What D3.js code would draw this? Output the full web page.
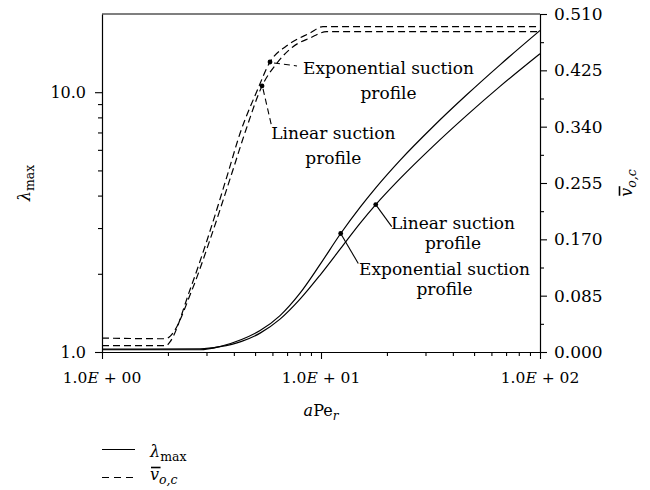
<!DOCTYPE html>
<html>
<head>
<meta charset="utf-8">
<script src="https://cdn.jsdelivr.net/npm/d3@7"></script>
<style>
  html, body { margin: 0; padding: 0; background: #fff; }
  svg { display: block; }
  text { font-family: "DejaVu Serif", serif; fill: #000; white-space: pre; }
</style>
</head>
<body>
<svg id="chart" width="650" height="490"></svg>
<script>
// ---- data -------------------------------------------------------------
// Maximum growth rate λmax against aPe_r (left, logarithmic axis)
const aPeLambda         = [1, 2.8, 3.46, 4.34, 5.27, 6.5, 8.02, 9.89, 12.3, 15.07, 17.78, 22.95, 32.46, 46.27, 65.68, 100];
const lambdaExponential = [1.020, 1.020, 1.050, 1.117, 1.209, 1.381, 1.685, 2.169, 2.858, 3.604, 4.285, 5.467, 7.364, 9.772, 12.745, 17.28];
const lambdaLinear      = [1.025, 1.028, 1.048, 1.099, 1.182, 1.338, 1.597, 1.974, 2.505, 3.128, 3.693, 4.648, 6.19, 8.145, 10.53, 14.07];

// Critical mean suction velocity against aPe_r (right, linear axis)
const aPeVExponential = [1, 1.96, 2.04, 2.52, 3.02, 3.76, 4.27, 5.09, 5.85, 6.97, 8.91, 10.2, 100];
const vExponential    = [0.0095, 0.0095, 0.015, 0.0935, 0.169, 0.270, 0.330, 0.393, 0.4376, 0.4620, 0.4813, 0.4909, 0.4909];
const aPeVLinear      = [1, 1.96, 2.05, 2.576, 3.11, 3.92, 4.54, 5.38, 6.28, 7.45, 8.91, 10.6, 100];
const vLinear         = [0.021, 0.020, 0.024, 0.0935, 0.169, 0.270, 0.335, 0.4014, 0.4356, 0.4607, 0.4738, 0.4833, 0.4833];

// ticks
const aPeTicks         = [1, 10, 100];
const aPeTickLabels    = ["1.0E + 00", "1.0E + 01", "1.0E + 02"];
const aPeMinorTicks    = [2, 3, 4, 5, 6, 7, 8, 9, 20, 30, 40, 50, 60, 70, 80, 90];
const lambdaTicks      = [1, 10];
const lambdaTickLabels = ["1.0", "10.0"];
const lambdaMinorTicks = [2, 3, 4, 5, 6, 7, 8, 9];
const vTicks           = [0, 0.085, 0.17, 0.255, 0.34, 0.425, 0.51];
const vTickLabels      = ["0.000", "0.085", "0.170", "0.255", "0.340", "0.425", "0.510"];
const vMinorTicks      = [0.0425, 0.1275, 0.2125, 0.2975, 0.3825, 0.4675];

// ---- layout -----------------------------------------------------------
const FS = 16;          // titles, legend, left tick labels
const FS_X = 15.5;      // bottom tick labels
const FS_R = 17;        // right tick labels
const FS_NOTE = 17;     // curve annotations
const plot = { left: 102, right: 540, top: 14, bottom: 352 };
const svg = d3.select("#chart");

const x = d3.scaleLog().domain([1, 100]).range([plot.left, plot.right]);
const yL = d3.scaleLog().domain([1, 20]).range([plot.bottom, plot.top]);
const yR = d3.scaleLinear().domain([0, 0.51]).range([plot.bottom, plot.top]);

// ---- axes -------------------------------------------------------------
function styleAxis(g, size) {
  g.selectAll("path.domain").attr("stroke", "#000").attr("stroke-width", 1.2);
  g.selectAll(".tick line").attr("stroke", "#000").attr("stroke-width", 1.1);
  g.selectAll("text").attr("font-size", size).attr("font-family", "DejaVu Serif, serif");
}

// top frame line
svg.append("line")
  .attr("x1", plot.left).attr("x2", plot.right)
  .attr("y1", plot.top).attr("y2", plot.top)
  .attr("stroke", "#555").attr("stroke-width", 1.5);

// bottom (aPe_r)
const gx = svg.append("g").attr("transform", `translate(0,${plot.bottom})`);
gx.call(d3.axisBottom(x).tickValues(aPeMinorTicks).tickSize(4).tickSizeOuter(0).tickFormat(""));
gx.append("g").call(d3.axisBottom(x).tickValues(aPeTicks).tickSize(7).tickSizeOuter(0).tickFormat(""))
  .call(g => g.select(".domain").remove());
styleAxis(gx, FS_X);
aPeTicks.forEach((v, i) => {
  const parts = aPeTickLabels[i].split("E");
  const t = gx.append("text")
    .attr("x", x(v)).attr("y", 31)
    .attr("text-anchor", "middle").attr("font-size", FS_X);
  t.append("tspan").text(parts[0]);
  t.append("tspan").attr("font-style", "italic").text("E");
  t.append("tspan").text(parts[1]);
});

// left (λmax, log)
const gl = svg.append("g").attr("transform", `translate(${plot.left},0)`);
gl.call(d3.axisLeft(yL).tickValues(lambdaMinorTicks).tickSize(4).tickSizeOuter(0).tickFormat(""));
gl.append("g").call(d3.axisLeft(yL).tickValues(lambdaTicks).tickSize(7).tickSizeOuter(0).tickPadding(9)
    .tickFormat((d, i) => lambdaTickLabels[i]))
  .call(g => g.select(".domain").remove());
styleAxis(gl, FS);

// right (mean suction velocity, linear)
const gr = svg.append("g").attr("transform", `translate(${plot.right},0)`);
gr.call(d3.axisRight(yR).tickValues(vMinorTicks).tickSize(4).tickSizeOuter(0).tickFormat(""));
gr.append("g").call(d3.axisRight(yR).tickValues(vTicks).tickSize(7).tickSizeOuter(0).tickPadding(7)
    .tickFormat((d, i) => vTickLabels[i]))
  .call(g => g.select(".domain").remove());
styleAxis(gr, FS_R);

// ---- axis titles ------------------------------------------------------
// x title: aPe_r
{
  const t = svg.append("text").attr("x", (plot.left + plot.right) / 2).attr("y", 416)
    .attr("text-anchor", "middle").attr("font-size", FS);
  t.append("tspan").attr("font-style", "italic").text("a");
  t.append("tspan").text("Pe");
  t.append("tspan").attr("font-style", "italic").attr("font-size", FS * 0.75).attr("dy", 4).text("r");
}

// λmax label builder
function lambdaLabel(sel) {
  sel.append("tspan").attr("font-style", "italic").text("λ");
  sel.append("tspan").attr("font-size", FS * 0.78).attr("dy", 4).text("max");
}
// v̄_o,c label builder (draws its own overbar)
function vLabel(g) {
  const t = g.append("text").attr("font-size", FS);
  t.append("tspan").attr("font-style", "italic").text("v");
  t.append("tspan").attr("font-style", "italic").attr("font-size", FS * 0.78).attr("dy", 4).text("o,c");
  const vw = t.node().getSubStringLength(0, 1);
  g.append("line").attr("x1", 1).attr("x2", vw + 1.5)
    .attr("y1", -12.5).attr("y2", -12.5)
    .attr("stroke", "#000").attr("stroke-width", 1.6);
  return t;
}

// left title (rotated)
{
  const g = svg.append("g").attr("transform", "translate(30,183) rotate(-90)");
  const t = g.append("text").attr("text-anchor", "middle").attr("font-size", FS);
  lambdaLabel(t);
}
// right title (rotated)
{
  const g = svg.append("g").attr("transform", "translate(632,183) rotate(-90)");
  const inner = g.append("g");
  const t = vLabel(inner);
  const w = t.node().getComputedTextLength();
  inner.attr("transform", `translate(${-w / 2},0)`);
}

// ---- curves -----------------------------------------------------------
const lineL = d3.line().x(d => x(d[0])).y(d => yL(d[1])).curve(d3.curveMonotoneX);
const lineR = d3.line().x(d => x(d[0])).y(d => yR(d[1])).curve(d3.curveMonotoneX);
const zip = (a, b) => a.map((v, i) => [v, b[i]]);

const curves = svg.append("g").attr("fill", "none").attr("stroke", "#000").attr("stroke-width", 1.2);
curves.append("path").attr("d", lineL(zip(aPeLambda, lambdaExponential)));
curves.append("path").attr("d", lineL(zip(aPeLambda, lambdaLinear)));
curves.append("path").attr("d", lineR(zip(aPeVExponential, vExponential))).attr("stroke-dasharray", "7,4");
curves.append("path").attr("d", lineR(zip(aPeVLinear, vLinear))).attr("stroke-dasharray", "7,4");

// ---- annotations ------------------------------------------------------
const notes = [
  { px: x(aPeVExponential[8]), py: yR(vExponential[8]), dashed: true,
    lead: [4, 1, 27, 4], cx: 118.5, lines: ["Exponential suction", "profile"], base: [12, 37] },
  { px: x(aPeVLinear[7]), py: yR(vLinear[7]), dashed: true,
    lead: [1, 3, 10, 42], cx: 71.3, lines: ["Linear suction", "profile"], base: [52.6, 78] },
  { px: x(aPeLambda[10]), py: yL(lambdaLinear[10]), dashed: false,
    lead: [0, 0, 16, 22], cx: 77.3, lines: ["Linear suction", "profile"], base: [24.7, 44] },
  { px: x(aPeLambda[8]), py: yL(lambdaExponential[8]), dashed: false,
    lead: [0, 0, 17.6, 30], cx: 103.8, lines: ["Exponential suction", "profile"], base: [41.7, 61] }
];
const ann = svg.append("g");
notes.forEach(n => {
  ann.append("line")
    .attr("x1", n.px + n.lead[0]).attr("y1", n.py + n.lead[1])
    .attr("x2", n.px + n.lead[2]).attr("y2", n.py + n.lead[3])
    .attr("stroke", "#000").attr("stroke-width", 1.1)
    .attr("stroke-dasharray", n.dashed ? "6,4" : null);
  ann.append("circle").attr("cx", n.px).attr("cy", n.py).attr("r", 2.4).attr("fill", "#000");
  n.lines.forEach((s, i) => {
    ann.append("text").attr("x", n.px + n.cx).attr("y", n.py + n.base[i])
      .attr("text-anchor", "middle").attr("font-size", FS_NOTE).text(s);
  });
});

// ---- legend -----------------------------------------------------------
const lg = svg.append("g");
lg.append("line").attr("x1", 102).attr("x2", 135).attr("y1", 449.5).attr("y2", 449.5)
  .attr("stroke", "#000").attr("stroke-width", 1.2);
lg.append("line").attr("x1", 102).attr("x2", 135).attr("y1", 477.5).attr("y2", 477.5)
  .attr("stroke", "#000").attr("stroke-width", 1.2).attr("stroke-dasharray", "7,5");
{
  const t = lg.append("text").attr("x", 150).attr("y", 457).attr("font-size", FS);
  lambdaLabel(t);
  const g = lg.append("g").attr("transform", "translate(150,480)");
  vLabel(g);
}
</script>
</body>
</html>
